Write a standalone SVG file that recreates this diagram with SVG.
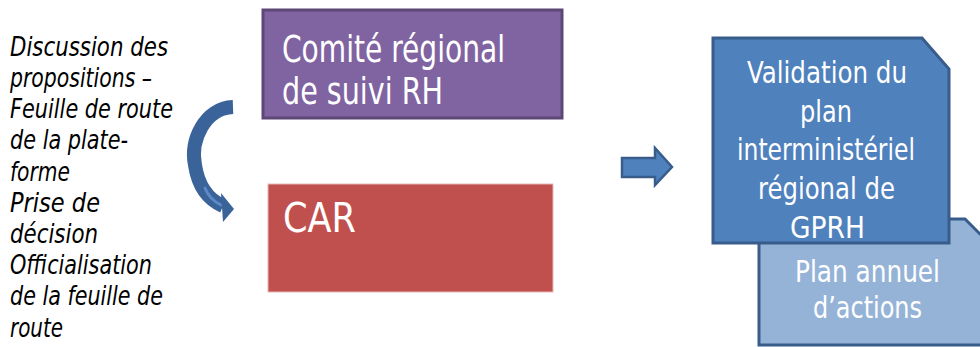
<svg xmlns="http://www.w3.org/2000/svg" width="980" height="347" viewBox="0 0 980 347">
  <style>
    .lbl { font-family: 'DejaVu Sans Condensed', 'DejaVu Sans', sans-serif; font-stretch: condensed; fill: #ffffff; }
    .side { font-family: 'DejaVu Sans Condensed', 'DejaVu Sans', sans-serif; font-stretch: condensed; font-style: italic; font-size: 27px; fill: #000000; }
  </style>
  <rect width="980" height="347" fill="#ffffff"/>

  <g id="side-text">
    <text class="side" x="10" y="56" textLength="158" lengthAdjust="spacingAndGlyphs">Discussion des</text>
    <text class="side" x="10" y="87" textLength="142" lengthAdjust="spacingAndGlyphs">propositions –</text>
    <text class="side" x="10" y="118" textLength="163" lengthAdjust="spacingAndGlyphs">Feuille de route</text>
    <text class="side" x="10" y="149" textLength="118" lengthAdjust="spacingAndGlyphs">de la plate-</text>
    <text class="side" x="10" y="181" textLength="60" lengthAdjust="spacingAndGlyphs">forme</text>
    <text class="side" x="10" y="212" textLength="90" lengthAdjust="spacingAndGlyphs">Prise de</text>
    <text class="side" x="10" y="243" textLength="88" lengthAdjust="spacingAndGlyphs">décision</text>
    <text class="side" x="10" y="274" textLength="142" lengthAdjust="spacingAndGlyphs">Officialisation</text>
    <text class="side" x="10" y="305" textLength="153" lengthAdjust="spacingAndGlyphs">de la feuille de</text>
    <text class="side" x="10" y="337" textLength="53" lengthAdjust="spacingAndGlyphs">route</text>
  </g>

  <g id="comite">
    <rect x="263" y="10" width="299" height="108" fill="#8064A2" stroke="#5C4776" stroke-width="3"/>
    <text class="lbl" x="282" y="62" font-size="38" textLength="223" lengthAdjust="spacingAndGlyphs">Comité régional</text>
    <text class="lbl" x="282" y="104" font-size="38" textLength="161" lengthAdjust="spacingAndGlyphs">de suivi RH</text>
  </g>

  <g id="car">
    <rect x="268" y="184" width="285" height="108" fill="#C0504D" stroke="#E6B9B8" stroke-width="1"/>
    <text class="lbl" x="283" y="232" font-size="40" textLength="73" lengthAdjust="spacingAndGlyphs">CAR</text>
  </g>

  <g id="plan-annuel">
    <path d="M759,219 L965,219 L1000,254 L1000,345 L759,345 Z" fill="#95B3D7" stroke="#385D8A" stroke-width="3"/>
    <text class="lbl" x="867.5" y="282" font-size="30" text-anchor="middle" textLength="145" lengthAdjust="spacingAndGlyphs">Plan annuel</text>
    <text class="lbl" x="867.5" y="318" font-size="30" text-anchor="middle" textLength="109" lengthAdjust="spacingAndGlyphs">d’actions</text>
  </g>

  <g id="validation">
    <path d="M713,38 L922,38 L949,69 L949,243 L713,243 Z" fill="#4F81BD" stroke="#385D8A" stroke-width="3"/>
    <text class="lbl" x="827" y="83" font-size="30" text-anchor="middle" textLength="160" lengthAdjust="spacingAndGlyphs">Validation du</text>
    <text class="lbl" x="826" y="122" font-size="30" text-anchor="middle" textLength="52" lengthAdjust="spacingAndGlyphs">plan</text>
    <text class="lbl" x="826" y="160" font-size="30" text-anchor="middle" textLength="178" lengthAdjust="spacingAndGlyphs">interministériel</text>
    <text class="lbl" x="826.5" y="199" font-size="30" text-anchor="middle" textLength="137" lengthAdjust="spacingAndGlyphs">régional de</text>
    <text class="lbl" x="827.5" y="238" font-size="30" text-anchor="middle" textLength="75" lengthAdjust="spacingAndGlyphs">GPRH</text>
  </g>

  <g id="connectors">
    <path d="M233,107 C205,108 190,140 195,165 C198,185 207,199 223,206" fill="none" stroke="#3A6399" stroke-width="14"/>
    <path d="M205,188 C208,196 213,201 221,205" fill="none" stroke="#5B8AC6" stroke-width="3" stroke-linecap="round"/>
    <polygon points="221,193 234,209 223,222" fill="#3A6399"/>
    <polygon points="622,158 655,158 655,148 672,167 655,185 655,177 622,177" fill="#4F81BD" stroke="#385D8A" stroke-width="2.5"/>
  </g>
</svg>
